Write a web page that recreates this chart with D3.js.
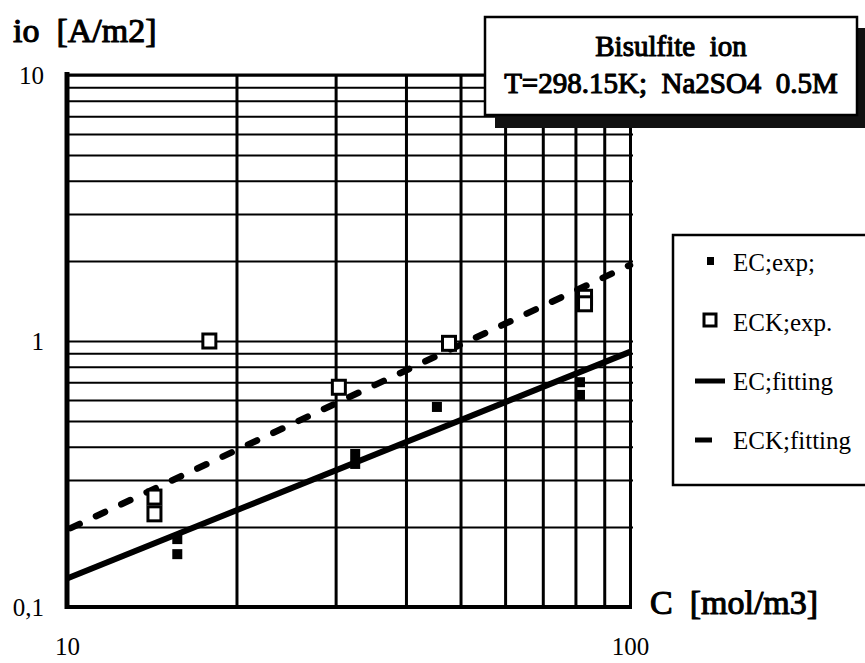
<!DOCTYPE html>
<html><head><meta charset="utf-8">
<script src="https://cdn.jsdelivr.net/npm/d3@7"></script>
<style>
body{margin:0;background:#fff}
text{font-family:"Liberation Serif","Times New Roman",serif;fill:#000}
.fb{stroke:#000;stroke-width:1.1px;stroke-linejoin:round}
</style>
</head><body>
<svg id="c" width="865" height="663"></svg>
<script>
// ---- data ----
const xDomain = [10, 100];
const yDomain = [0.1, 10];
const xGridValues = [20, 30, 40, 50, 60, 70, 80, 90, 100];
const yGridValues = [0.2,0.3,0.4,0.5,0.6,0.7,0.8,0.9,1,2,3,4,5,6,7,8,9,10];
const xTickValues = [10, 100];
const xTickLabels = ["10", "100"];
const yTickValues = [10, 1, 0.1];
const yTickLabels = ["10", "1", "0,1"];

const ecExpC  = [15.7, 15.7, 32.5, 32.5, 45.4, 81.5, 81.5];
const ecExpI  = [0.180, 0.158, 0.376, 0.345, 0.565, 0.700, 0.627];
const eckExpC = [14.3, 14.3, 17.9, 30.4, 47.7, 83.2, 83.2];
const eckExpI = [0.259, 0.224, 1.00, 0.67, 0.98, 1.46, 1.38];
const ecFitC  = [10, 100];
const ecFitI  = [0.128, 0.91];
const eckFitC = [10, 100];
const eckFitI = [0.195, 1.93];

const legendLabels = ["EC;exp;", "ECK;exp.", "EC;fitting", "ECK;fitting"];
const titleLines = ["Bisulfite  ion", "T=298.15K;  Na2SO4  0.5M"];
const yAxisTitle = "io  [A/m2]";
const xAxisTitle = "C  [mol/m3]";

// ---- layout ----
const L = 67, R = 630, T = 75, B = 607;
const svg = d3.select("#c");
const x = d3.scaleLog().domain(xDomain).range([L, R]);
const y = d3.scaleLog().domain(yDomain).range([B, T]);

// grid: horizontal
const gy = svg.append("g").attr("transform", `translate(${L},0)`)
  .call(d3.axisRight(y).tickValues(yGridValues).tickSize(R + 3 - L).tickFormat(""));
gy.select(".domain").remove();
gy.selectAll("line").attr("stroke", "#000").attr("stroke-width", 2);

// grid: vertical
const gx = svg.append("g").attr("transform", `translate(0,${B})`)
  .call(d3.axisTop(x).tickValues(xGridValues).tickSize(B - T).tickFormat(""));
gx.select(".domain").remove();
gx.selectAll("line").attr("stroke", "#000").attr("stroke-width", 3);

// frame (left, bottom, top)
svg.append("line").attr("x1", L).attr("x2", L).attr("y1", T - 3).attr("y2", B + 2)
  .attr("stroke", "#000").attr("stroke-width", 5);
svg.append("line").attr("x1", L - 2).attr("x2", R + 2).attr("y1", B).attr("y2", B)
  .attr("stroke", "#000").attr("stroke-width", 4);
svg.append("line").attr("x1", L).attr("x2", R + 3).attr("y1", T).attr("y2", T)
  .attr("stroke", "#000").attr("stroke-width", 3);

// tick labels
const ax = svg.append("g").attr("transform", `translate(0,${B})`)
  .call(d3.axisBottom(x).tickValues(xTickValues).tickSize(0).tickPadding(30)
    .tickFormat((d, i) => xTickLabels[i]));
ax.select(".domain").remove();
ax.selectAll("text").style("font-family", '"Liberation Serif",serif').style("font-size", "25px");

const ay = svg.append("g").attr("transform", `translate(44,0)`)
  .call(d3.axisLeft(y).tickValues(yTickValues).tickSize(0).tickPadding(0)
    .tickFormat((d, i) => yTickLabels[i]));
ay.select(".domain").remove();
ay.selectAll("text").style("font-family", '"Liberation Serif",serif').style("font-size", "25px");

// fitted lines
const lineGen = d3.line().x(d => x(d[0])).y(d => y(d[1]));
svg.append("path").datum(ecFitC.map((c, i) => [c, ecFitI[i]]))
  .attr("d", lineGen).attr("fill", "none").attr("stroke", "#000").attr("stroke-width", 6);
svg.append("path").datum(eckFitC.map((c, i) => [c, eckFitI[i]]))
  .attr("d", lineGen).attr("fill", "none").attr("stroke", "#000").attr("stroke-width", 6.5)
  .attr("stroke-linecap", "round").attr("stroke-dasharray", "10,18").attr("stroke-dashoffset", -4);

// experimental points
svg.append("g").selectAll("rect").data(ecExpC.map((c, i) => [c, ecExpI[i]])).join("rect")
  .attr("x", d => x(d[0]) - 5).attr("y", d => y(d[1]) - 5).attr("width", 10).attr("height", 10)
  .attr("fill", "#000");
svg.append("g").selectAll("rect").data(eckExpC.map((c, i) => [c, eckExpI[i]])).join("rect")
  .attr("x", d => x(d[0]) - 6.5).attr("y", d => y(d[1]) - 7).attr("width", 13).attr("height", 14)
  .attr("fill", "#fff").attr("stroke", "#000").attr("stroke-width", 3);

// axis titles (serif, emboldened with a stroke)
svg.append("text").attr("class", "fb").attr("x", 13).attr("y", 42).attr("xml:space", "preserve")
  .style("font-size", "34px").text(yAxisTitle);
svg.append("text").attr("class", "fb").attr("x", 650).attr("y", 614).attr("xml:space", "preserve")
  .style("font-size", "34px").text(xAxisTitle);

// title box with shadow
svg.append("rect").attr("x", 495).attr("y", 28).attr("width", 375).attr("height", 100).attr("fill", "#111");
svg.append("rect").attr("x", 485).attr("y", 17).attr("width", 372).attr("height", 98)
  .attr("fill", "#fff").attr("stroke", "#000").attr("stroke-width", 2.5);
svg.append("g").selectAll("text").data(titleLines).join("text").attr("class", "fb")
  .attr("x", 671).attr("y", (d, i) => 56 + i * 37).attr("text-anchor", "middle")
  .attr("xml:space", "preserve").style("font-size", "29px")
  .text(d => d);

// legend
const lg = svg.append("g");
lg.append("rect").attr("x", 673).attr("y", 235).attr("width", 200).attr("height", 250)
  .attr("fill", "#fff").attr("stroke", "#000").attr("stroke-width", 2.5);
const legY = [262, 322, 381, 440];
lg.append("rect").attr("x", 707).attr("y", legY[0] - 5).attr("width", 7).attr("height", 8).attr("fill", "#000");
lg.append("rect").attr("x", 704).attr("y", legY[1] - 8).attr("width", 12).attr("height", 12)
  .attr("fill", "#fff").attr("stroke", "#000").attr("stroke-width", 3);
lg.append("line").attr("x1", 695).attr("x2", 725).attr("y1", legY[2]).attr("y2", legY[2])
  .attr("stroke", "#000").attr("stroke-width", 5);
lg.append("line").attr("x1", 695).attr("x2", 712).attr("y1", legY[3]).attr("y2", legY[3])
  .attr("stroke", "#000").attr("stroke-width", 5);
lg.selectAll("text.l").data(legendLabels).join("text").attr("class", "l")
  .attr("x", 733).attr("y", (d, i) => legY[i] + 9).style("font-size", "25px").text(d => d);
</script>
</body></html>
